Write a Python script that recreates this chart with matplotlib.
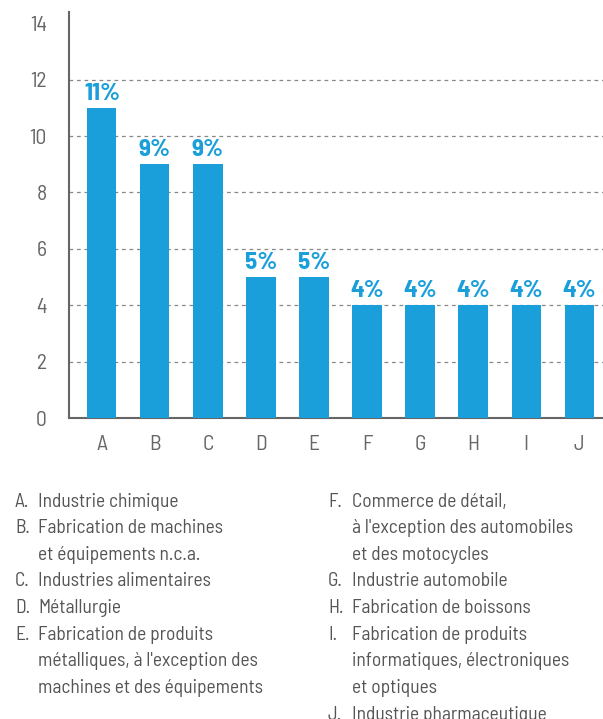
import matplotlib
matplotlib.use("Agg")
import matplotlib.pyplot as plt
import numpy as np

plt.rcParams["font.family"] = ["Barlow Semi Condensed", "DejaVu Sans"]

# data
letters = ["A", "B", "C", "D", "E", "F", "G", "H", "I", "J"]
values = [11, 9, 9, 5, 5, 4, 4, 4, 4, 4]
yticks = [0, 2, 4, 6, 8, 10, 12, 14]

left_names = [
    "Industrie chimique",
    "Fabrication de machines\net équipements n.c.a.",
    "Industries alimentaires",
    "Métallurgie",
    "Fabrication de produits\nmétalliques, à l'exception des\nmachines et des équipements",
]
right_names = [
    "Commerce de détail,\nà l'exception des automobiles\net des motocycles",
    "Industrie automobile",
    "Fabrication de boissons",
    "Fabrication de produits\ninformatiques, électroniques\net optiques",
    "Industrie pharmaceutique",
]

BLUE = "#1a9fdb"
GREY = "#666666"
TEXT = "#555555"
W, H = 603, 719

fig = plt.figure(figsize=(W / 100, H / 100), dpi=100)
ax = fig.add_axes([69 / W, 1 - 418 / H, 1 - 69 / W, (418 - 12) / H])

x = np.arange(len(letters))
ax.bar(x, values, width=0.55, color=BLUE, zorder=3)
for xi, v in zip(x, values):
    ax.text(xi, v + 0.1, f"{v}%", ha="center", va="bottom", color=BLUE,
            fontsize=18, fontweight="bold")

ax.set_xlim(-0.62, 9.45)
ax.set_ylim(0, 14.4)
ax.set_xticks(x)
ax.set_xticklabels(letters)
ax.set_yticks(yticks)
ax.tick_params(length=0, labelsize=15.5, labelcolor=GREY)
ax.tick_params(axis="x", pad=12)
ax.tick_params(axis="y", pad=16)

for y in yticks[1:-1]:
    ax.axhline(y, color="#888888", lw=0.9, ls=(0, (3, 3)), zorder=1)

for s in ["top", "right"]:
    ax.spines[s].set_visible(False)
for s in ["left", "bottom"]:
    ax.spines[s].set_color(GREY)
    ax.spines[s].set_linewidth(1.5)

# legend text below the chart, one line at a time
line_h = 26.6


def draw_column(names, letters_col, x_letter, x_text, base0):
    base = base0
    for let, name in zip(letters_col, names):
        fig.text(x_letter / W, 1 - base / H, f"{let}.", ha="left", va="baseline",
                 fontsize=14, color=TEXT)
        for line in name.split("\n"):
            fig.text(x_text / W, 1 - base / H, line, ha="left", va="baseline",
                     fontsize=14, color=TEXT)
            base += line_h


draw_column(left_names, letters[:5], 15, 38, 506.7)
draw_column(right_names, letters[5:], 328, 352, 506.7)

fig.savefig("out.png", dpi=100)
